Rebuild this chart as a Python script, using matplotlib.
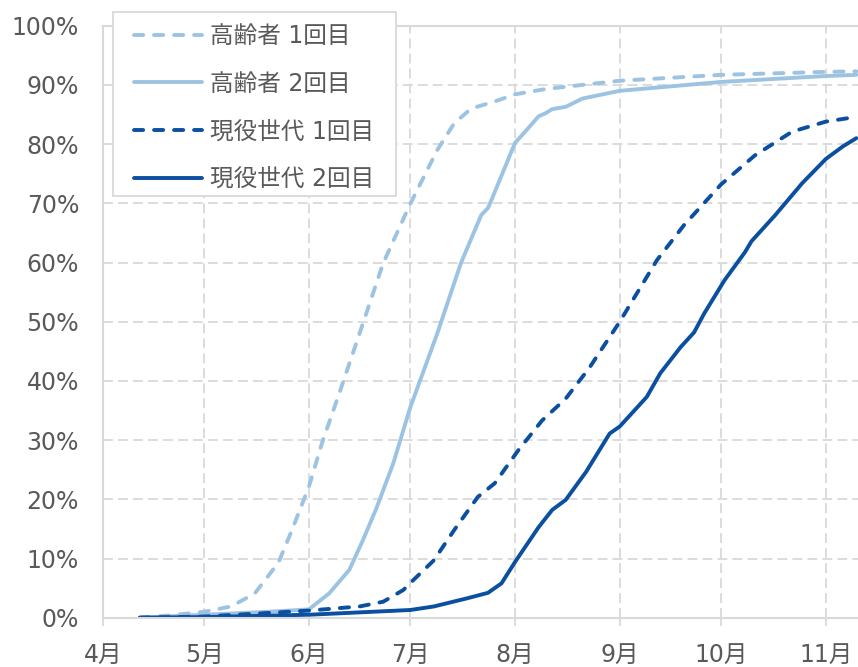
import pandas as pd
import matplotlib
matplotlib.use("Agg")
import matplotlib.pyplot as plt
from matplotlib.patches import Rectangle

plt.rcParams['font.family'] = ['DejaVu Sans', 'Noto Sans CJK JP']

# 累積接種率 (%)
old1_dates = ['2021-04-12', '2021-04-21', '2021-05-01', '2021-05-09', '2021-05-16',
              '2021-05-23', '2021-05-27', '2021-06-01', '2021-06-05', '2021-06-10',
              '2021-06-17', '2021-06-23', '2021-07-01', '2021-07-09', '2021-07-14',
              '2021-07-19', '2021-07-26', '2021-08-01', '2021-08-10', '2021-09-01',
              '2021-10-01', '2021-11-01', '2021-11-10']
old1_vals = [0.0, 0.4, 1.0, 1.9, 4.1, 9.3, 14.8, 22.1, 29.7, 37.9,
             49.7, 59.9, 69.9, 79.0, 83.5, 86.0, 87.2, 88.4, 89.3, 90.7,
             91.7, 92.2, 92.3]

old2_dates = ['2021-04-12', '2021-05-01', '2021-05-20', '2021-06-01', '2021-06-07',
              '2021-06-13', '2021-06-17', '2021-06-21', '2021-06-26', '2021-07-01',
              '2021-07-09', '2021-07-16', '2021-07-22', '2021-07-24', '2021-07-25',
              '2021-08-01', '2021-08-04', '2021-08-08', '2021-08-10', '2021-08-12',
              '2021-08-16', '2021-08-21', '2021-09-01', '2021-10-01', '2021-11-01',
              '2021-11-10']
old2_vals = [0.0, 0.5, 1.0, 1.4, 4.1, 8.1, 13.1, 18.5, 26.1, 35.5,
             48.0, 59.9, 68.0, 69.2, 70.5, 80.2, 82.1, 84.7, 85.2, 85.9,
             86.3, 87.7, 89.0, 90.5, 91.5, 91.7]

young1_dates = ['2021-04-12', '2021-05-01', '2021-05-20', '2021-06-01', '2021-06-16',
                '2021-06-23', '2021-06-29', '2021-07-02', '2021-07-08', '2021-07-14',
                '2021-07-21', '2021-07-26', '2021-08-02', '2021-08-09', '2021-08-16',
                '2021-08-23', '2021-09-01', '2021-09-12', '2021-09-20', '2021-10-01',
                '2021-10-11', '2021-10-22', '2021-11-01', '2021-11-10']
young1_vals = [0.0, 0.2, 0.8, 1.2, 1.9, 2.7, 4.7, 6.4, 9.7, 14.8,
               20.4, 22.7, 28.3, 33.3, 37.0, 42.2, 50.0, 60.4, 66.3, 73.2,
               78.1, 82.1, 83.8, 84.6]

young2_dates = ['2021-04-12', '2021-05-01', '2021-06-01', '2021-07-01', '2021-07-08',
                '2021-07-18', '2021-07-24', '2021-07-28', '2021-08-01', '2021-08-08',
                '2021-08-12', '2021-08-16', '2021-08-22', '2021-08-29', '2021-09-01',
                '2021-09-09', '2021-09-13', '2021-09-19', '2021-09-23', '2021-09-26',
                '2021-10-02', '2021-10-08', '2021-10-10', '2021-10-17', '2021-10-25',
                '2021-11-01', '2021-11-06', '2021-11-10']
young2_vals = [0.0, 0.1, 0.5, 1.3, 1.9, 3.3, 4.2, 5.8, 9.4, 15.3,
               18.2, 19.9, 24.6, 31.1, 32.3, 37.3, 41.3, 45.7, 48.2, 51.4,
               57.0, 61.7, 63.6, 68.0, 73.4, 77.5, 79.6, 81.0]

labels = ['高齢者 1回目', '高齢者 2回目', '現役世代 1回目', '現役世代 2回目']
month_ticks = ['2021-04-01', '2021-05-01', '2021-06-01', '2021-07-01',
               '2021-08-01', '2021-09-01', '2021-10-01', '2021-11-01']
month_labels = ['4月', '5月', '6月', '7月', '8月', '9月', '10月', '11月']

LIGHT = '#9DC3E3'
DARK = '#0B4FA0'
GRID = '#D9D9D9'
TEXT = '#595959'
W, H = 858, 667

fig = plt.figure(figsize=(W / 100, H / 100), dpi=100)
ax = fig.add_axes([102.7 / W, (H - 617.7) / H, (W - 102.7) / W, (617.7 - 25.7) / H])

series = [
    (old1_dates, old1_vals, LIGHT, True),
    (old2_dates, old2_vals, LIGHT, False),
    (young1_dates, young1_vals, DARK, True),
    (young2_dates, young2_vals, DARK, False),
]
for (d, v, c, dashed), lab in zip(series, labels):
    ls = (0, (2.35, 2.8)) if dashed else '-'
    ax.plot(pd.to_datetime(d), [x / 100 for x in v], color=c, lw=2.8,
            linestyle=ls, label=lab, solid_capstyle='round',
            dash_capstyle='round', solid_joinstyle='round')

start = pd.Timestamp('2021-04-01')
ax.set_xlim(start, start + pd.Timedelta(days=223.5))
ax.set_ylim(0, 1)

ax.set_xticks(pd.to_datetime(month_ticks))
ax.set_xticklabels(month_labels)
ax.set_yticks([i / 10 for i in range(11)])
ax.set_yticklabels([f'{i * 10}%' for i in range(11)])

ax.grid(True, color=GRID, linestyle=(0, (5.5, 2.8)), lw=1.3)
ax.set_axisbelow(True)
for side in ['left', 'bottom', 'top']:
    ax.spines[side].set_color(GRID)
    ax.spines[side].set_linewidth(1.5)
ax.spines['right'].set_visible(False)

ax.tick_params(axis='x', length=6, width=1.3, color=GRID, labelsize=17,
               labelcolor=TEXT, pad=12)
ax.tick_params(axis='y', length=0, labelsize=17, labelcolor=TEXT, pad=17)

# legend box drawn separately so the padding can differ per side
box = Rectangle((113 / W, 1 - 196 / H), (396 - 113) / W, (196 - 12) / H,
                transform=fig.transFigure, facecolor='white', edgecolor=GRID,
                lw=1.3, zorder=4.5, clip_on=False)
ax.add_patch(box)
leg = ax.legend(loc='upper left', bbox_to_anchor=(134 / W, 1 - 24 / H),
                bbox_transform=fig.transFigure, borderaxespad=0, borderpad=0,
                frameon=False, fontsize=17, labelcolor=TEXT, handlelength=2.9,
                handletextpad=0.3, labelspacing=1.0)

fig.savefig('out.png', dpi=100)
